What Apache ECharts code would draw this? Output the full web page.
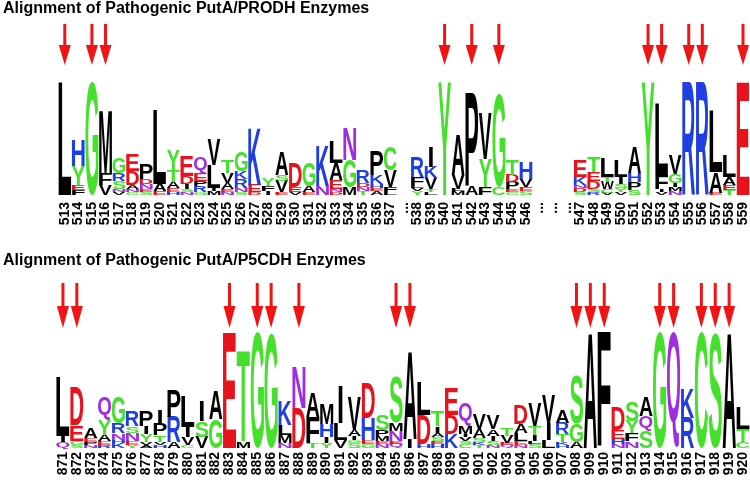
<!DOCTYPE html>
<html><head><meta charset="utf-8">
<script src="https://cdn.jsdelivr.net/npm/echarts@6/dist/echarts.min.js"></script>
<style>html,body{margin:0;padding:0;background:#fff}#c{width:750px;height:481px}</style>
</head><body><div id="c"></div>
<script>
// ---------- DATA ----------
const titleProdh = 'Alignment of Pathogenic PutA/PRODH Enzymes';
const titleP5cdh = 'Alignment of Pathogenic PutA/P5CDH Enzymes';

const prodhLabels = ['513','514','515','516','517','518','519','520','521','522','523','524','525','526','527','528','529','530','531','532','533','534','535','536','537','...','538','539','540','541','542','543','544','545','546','...','...','...','547','548','549','550','551','552','553','554','555','556','557','558','559'];
// letter stacks (bottom -> top), heights in bits
const prodhStacks = [
 [['L',4.28]],
 [['F',.19],['E',.19],['Y',.72],['H',.98]],
 [['G',4.28]],
 [['V',.38],['F',.42],['M',2.42]],
 [['V',.11],['N',.11],['S',.30],['R',.30],['G',.61]],
 [['C',.11],['N',.11],['A',.15],['D',.53],['E',.64]],
 [['S',.11],['E',.11],['N',.19],['D',.19],['P',.61]],
 [['E',.15],['A',.27],['L',2.80]],
 [['H',.11],['E',.15],['A',.23],['T',.45],['Y',.76]],
 [['N',.11],['S',.11],['I',.19],['D',.30],['E',.76]],
 [['G',.11],['R',.23],['P',.19],['E',.27],['Q',.61]],
 [['M',.15],['I',.11],['L',.87],['V',.95]],
 [['N',.11],['E',.11],['A',.23],['V',.38],['T',.49]],
 [['S',.11],['N',.15],['R',.34],['K',.30],['G',.72]],
 [['D',.11],['E',.27],['K',2.16]],
 [['I',.15],['F',.19],['Y',.30]],
 [['E',.11],['V',.42],['S',.23],['A',.87]],
 [['V',.11],['E',.19],['D',.91]],
 [['E',.11],['A',.23],['G',.91]],
 [['N',.34],['K',1.52]],
 [['D',.11],['N',.11],['E',.34],['A',.64],['L',.80]],
 [['M',.30],['G',1.02],['N',1.21]],
 [['T',.15],['N',.15],['D',.15],['R',.49]],
 [['A',.15],['E',.11],['H',.15],['K',.34],['P',.95]],
 [['L',.11],['F',.19],['V',.64],['C',.87]],
 [],
 [['Y',.15],['V',.11],['L',.11],['F',.30],['R',.76]],
 [['L',.11],['T',.11],['V',.42],['K',.42],['I',.76]],
 [['Y',4.28]],
 [['M',.15],['L',.08],['V',.53],['A',1.52]],
 [['A',.34],['P',3.52]],
 [['F',.30],['Y',1.06],['V',1.74]],
 [['C',.30],['G',3.56]],
 [['C',.11],['E',.11],['P',.27],['D',.27],['T',.57]],
 [['S',.15],['E',.15],['V',.30],['H',.64]],
 [],[],[],
 [['S',.11],['D',.15],['N',.11],['K',.30],['E',.64]],
 [['R',.11],['S',.11],['D',.30],['E',.34],['T',.57]],
 [['V',.08],['C',.15],['W',.27],['T',.19],['L',.72]],
 [['V',.11],['Y',.15],['S',.15],['I',.27],['L',.64]],
 [['S',.19],['P',.30],['H',.34],['A',.98]],
 [['Y',4.28]],
 [['V',.11],['I',.11],['F',.53],['L',2.73]],
 [['N',.15],['M',.15],['I',.15],['G',.34],['V',.72]],
 [['R',4.28]],
 [['R',4.28]],
 [['E',.08],['A',.80],['L',2.35]],
 [['T',.19],['E',.19],['A',.30],['L',.83]],
 [['E',4.28]]
];
const prodhArrows = ['513','515','516','540','542','544','552','553','555','556','559'];

const p5cdhLabels = ['871','872','873','874','875','876','877','878','879','880','881','882','883','884','885','886','887','888','889','890','891','892','893','894','895','896','897','898','899','900','901','902','903','904','905','906','907','908','909','910','911','912','913','914','915','916','917','918','919','920'];
const p5cdhStacks = [
 [['Q',.22],['I',.22],['L',2.19]],
 [['S',.11],['G',.15],['E',.59],['D',1.41]],
 [['N',.11],['P',.11],['E',.15],['A',.37]],
 [['R',.11],['E',.15],['A',.22],['Y',.56],['Q',.86]],
 [['K',.19],['H',.11],['N',.26],['R',.37],['G',.97]],
 [['Y',.11],['E',.15],['N',.30],['S',.26],['R',.56]],
 [['A',.11],['V',.11],['Y',.30],['I',.30],['P',.59]],
 [['H',.11],['V',.11],['T',.26],['P',.41],['I',.52]],
 [['A',.22],['R',.93],['P',1.00]],
 [['C',.11],['V',.30],['I',.37],['L',1.12]],
 [['V',.41],['S',.59],['I',.78]],
 [['G',1.08],['A',1.08]],
 [['E',4.31]],
 [['M',.26],['T',3.38]],
 [['G',4.31]],
 [['G',4.28]],
 [['N',.19],['M',.30],['L',.37],['K',.93]],
 [['D',1.49],['N',1.52]],
 [['T',.19],['F',.97],['A',.93]],
 [['Y',.19],['I',.22],['H',.48],['M',.78]],
 [['V',.30],['L',.63],['I',1.41]],
 [['S',.19],['G',.11],['I',.15],['A',.22],['V',1.23]],
 [['G',.15],['E',.15],['H',.82],['D',1.30]],
 [['N',.15],['E',.11],['M',.19],['P',.22],['S',.56]],
 [['Q',.15],['E',.11],['N',.37],['M',.30],['S',1.71]],
 [['I',.33],['A',3.31]],
 [['H',.15],['D',1.08],['L',1.23]],
 [['H',.15],['E',.11],['S',.15],['A',.15],['I',.26],['T',.59]],
 [['K',.52],['D',.71],['E',1.00]],
 [['C',.15],['S',.11],['V',.15],['I',.11],['M',.30],['Q',.89]],
 [['T',.11],['K',.11],['S',.15],['A',.33],['V',.59]],
 [['N',.11],['S',.15],['I',.19],['A',.26],['V',.52]],
 [['Q',.11],['E',.07],['V',.26],['T',.30]],
 [['N',.11],['E',.15],['L',.30],['A',.33],['D',.71]],
 [['S',.15],['L',.11],['I',.22],['T',.33],['V',.86]],
 [['L',.30],['I',.63],['V',1.04]],
 [['H',.11],['K',.11],['T',.30],['R',.41],['A',.48]],
 [['A',.22],['G',.67],['S',1.82]],
 [['A',4.31]],
 [['F',4.31]],
 [['N',.15],['H',.19],['E',.33],['D',.86]],
 [['N',.26],['F',.30],['Y',.45],['S',.71]],
 [['S',.63],['Q',.56],['A',.71]],
 [['G',4.31]],
 [['Q',4.28]],
 [['R',1.12],['K',1.12]],
 [['C',4.31]],
 [['S',4.28]],
 [['A',4.31]],
 [['C',.22],['T',.48],['L',.82]]
];
const p5cdhArrows = ['871','872','883','885','886','888','895','896','908','909','910','914','915','917','918','919'];

const maxBits = 4.32;

// ---------- STYLE ----------
const letterColors = {
  A:'#000000',V:'#000000',L:'#000000',I:'#000000',M:'#000000',F:'#000000',W:'#000000',P:'#000000',
  G:'#45e02b',S:'#45e02b',T:'#45e02b',Y:'#45e02b',C:'#45e02b',
  K:'#1f3fe0',R:'#1f3fe0',H:'#1f3fe0',
  D:'#e8121c',E:'#e8121c',
  N:'#a02de0',Q:'#a02de0'
};
const FAMILY = '"Liberation Sans", Arial, Helvetica, sans-serif';
const FS = 100;
const mctx = document.createElement('canvas').getContext('2d');
mctx.font = 'bold ' + FS + 'px ' + FAMILY;
mctx.textAlign = 'center';
mctx.textBaseline = 'middle';
const mcache = {};
function metrics(ch){
  if (!mcache[ch]) {
    const m = mctx.measureText(ch);
    mcache[ch] = {asc: m.actualBoundingBoxAscent, desc: m.actualBoundingBoxDescent,
                  left: m.actualBoundingBoxLeft, right: m.actualBoundingBoxRight};
  }
  return mcache[ch];
}

function buildLetters(stacks){
  const data = [], letters = [];
  stacks.forEach((stack, i) => {
    let y = 0;
    stack.forEach(([ch, h]) => { data.push([i, y, y + h]); letters.push(ch); y += h; });
  });
  return {data, letters};
}

function letterRenderer(letters){
  return function(params, api){
    const ch = letters[params.dataIndex];
    const i = api.value(0);
    const p0 = api.coord([i, api.value(1)]);
    const p1 = api.coord([i, api.value(2)]);
    const band = api.size([1, 0])[0];
    const w = band * 0.95;
    const h = p0[1] - p1[1];
    if (h < 0.3) return null;
    const m = metrics(ch);
    const sy = h / (m.asc + m.desc);
    const sx = w / Math.max(m.left + m.right, 52);
    return {
      type: 'text', silent: true,
      x: p0[0] - (m.right - m.left) / 2 * sx,
      y: p0[1] - m.desc * sy,
      scaleX: sx, scaleY: sy,
      style: {text: ch, fill: letterColors[ch], font: 'bold ' + FS + 'px ' + FAMILY,
              align: 'center', verticalAlign: 'middle'}
    };
  };
}

function arrowRenderer(geo){
  return function(params, api){
    const p = api.coord([api.value(0), maxBits]);
    const cx = p[0], gt = p[1];
    const yTop = gt + geo.top, yHead = gt + geo.head, yTip = gt + geo.tip;
    return {
      type: 'group', silent: true,
      children: [
        {type:'rect', shape:{x: cx - geo.shaft/2, y: yTop, width: geo.shaft, height: yHead - yTop + 1}, style:{fill:'#f01414'}},
        {type:'polygon', shape:{points:[[cx - geo.hw/2, yHead],[cx + geo.hw/2, yHead],[cx, yTip]]}, style:{fill:'#f01414'}}
      ]
    };
  };
}

const top1 = buildLetters(prodhStacks);
const bot1 = buildLetters(p5cdhStacks);

function labelStyle(margin){
  return {rotate: 90, interval: 0, fontSize: 14, fontWeight: 'bold', color: '#000', fontFamily: FAMILY, margin: margin};
}

const chart = echarts.init(document.getElementById('c'), null, {renderer: 'canvas'});
chart.setOption({
  animation: false,
  backgroundColor: '#fff',
  title: [
    {text: titleProdh, left: 3, top: 1, padding: 0, textStyle: {fontSize: 16, fontWeight: 'bold', color: '#000', fontFamily: FAMILY}},
    {text: titleP5cdh, left: 3, top: 253, padding: 0, textStyle: {fontSize: 16, fontWeight: 'bold', color: '#000', fontFamily: FAMILY}}
  ],
  grid: [
    {left: 58, width: 692, top: 81, height: 114},
    {left: 56, width: 695, top: 332, height: 116}
  ],
  xAxis: [
    {type: 'category', gridIndex: 0, data: prodhLabels, boundaryGap: true, axisLine: {show: false}, axisTick: {show: false}, axisLabel: labelStyle(7)},
    {type: 'category', gridIndex: 1, data: p5cdhLabels, boundaryGap: true, axisLine: {show: false}, axisTick: {show: false}, axisLabel: labelStyle(4)}
  ],
  yAxis: [
    {type: 'value', gridIndex: 0, min: 0, max: maxBits, show: false},
    {type: 'value', gridIndex: 1, min: 0, max: maxBits, show: false}
  ],
  series: [
    {type: 'custom', xAxisIndex: 0, yAxisIndex: 0, data: top1.data, encode: {x: 0, y: [1, 2]}, renderItem: letterRenderer(top1.letters), clip: false},
    {type: 'custom', xAxisIndex: 1, yAxisIndex: 1, data: bot1.data, encode: {x: 0, y: [1, 2]}, renderItem: letterRenderer(bot1.letters), clip: false},
    {type: 'custom', xAxisIndex: 0, yAxisIndex: 0, data: prodhArrows.map(a => [prodhLabels.indexOf(a)]), encode: {x: 0},
     renderItem: arrowRenderer({top: -57, head: -36, tip: -16, shaft: 3, hw: 12}), clip: false},
    {type: 'custom', xAxisIndex: 1, yAxisIndex: 1, data: p5cdhArrows.map(a => [p5cdhLabels.indexOf(a)]), encode: {x: 0},
     renderItem: arrowRenderer({top: -49, head: -26, tip: -4, shaft: 3, hw: 12}), clip: false}
  ]
});
</script></body></html>
